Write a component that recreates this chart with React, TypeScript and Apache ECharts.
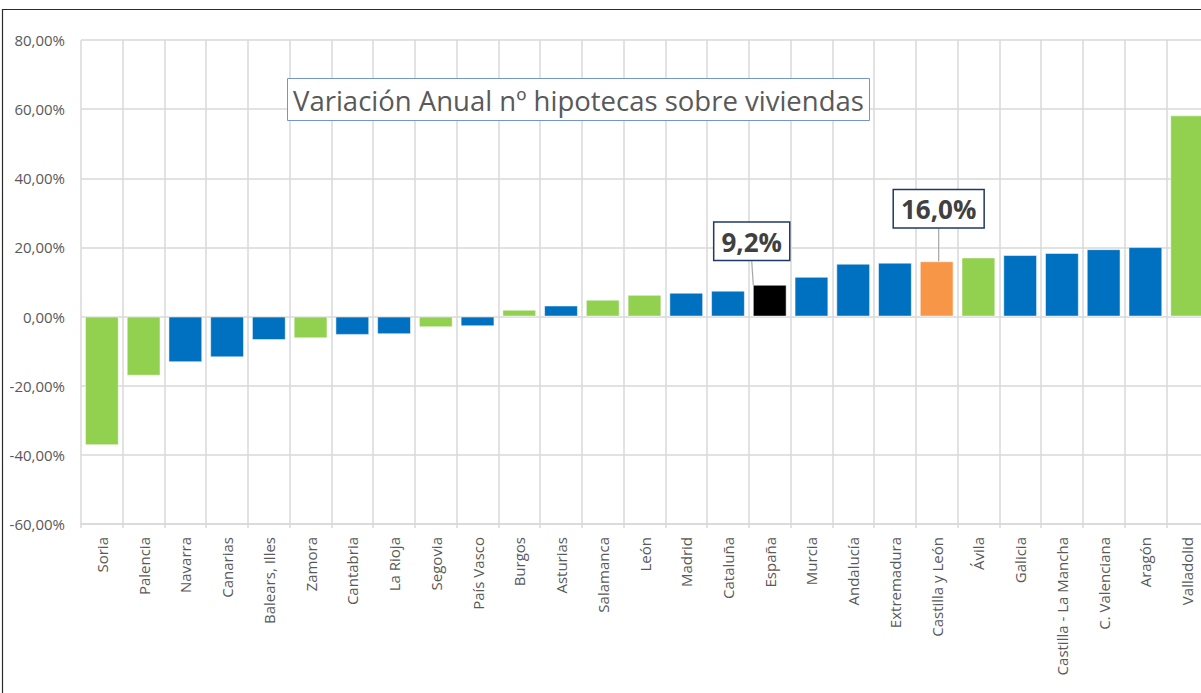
import React, { useEffect, useRef } from "react";
import * as echarts from "echarts";

const categories = [
  "Soria", "Palencia", "Navarra", "Canarias", "Balears, Illes", "Zamora", "Cantabria",
  "La Rioja", "Segovia", "País Vasco", "Burgos", "Asturias", "Salamanca", "León",
  "Madrid", "Cataluña", "España", "Murcia", "Andalucía", "Extremadura", "Castilla y León",
  "Ávila", "Galicia", "Castilla - La Mancha", "C. Valenciana", "Aragón", "Valladolid",
];
const values = [
  -37.2, -17.1, -13.2, -11.8, -6.8, -6.3, -5.3, -5.1, -3.1, -2.8, 2.0, 3.2, 4.9, 6.3,
  6.9, 7.5, 9.2, 11.5, 15.3, 15.6, 16.0, 17.1, 17.8, 18.4, 19.5, 20.1, 58.2,
];
// g = Castilla y León province (green), b = other region (blue), e = España, c = Castilla y León
const groups = [
  "g", "g", "b", "b", "b", "g", "b", "b", "g", "b", "g", "b", "g", "g",
  "b", "b", "e", "b", "b", "b", "c", "g", "b", "b", "b", "b", "g",
];
const highlighted = ["España", "Castilla y León"];
const yTicks = { min: -60, max: 80, interval: 20 };
const title = "Variación Anual nº hipotecas sobre viviendas";

const colorOf: Record<string, string> = {
  g: "#92D050",
  b: "#0070C0",
  e: "#000000",
  c: "#F79646",
};

const fmtPct = (v: number, d: number) => v.toFixed(d).replace(".", ",") + "%";

export default function App() {
  const ref = useRef<HTMLDivElement>(null);
  useEffect(() => {
    if (!ref.current) return;
    const chart = echarts.init(ref.current, null, { renderer: "svg" });
    const font = "'Open Sans', 'DejaVu Sans', sans-serif";
    const data = values.map((v, i) => {
      const item: any = {
        value: v,
        itemStyle: { color: colorOf[groups[i]] },
      };
      if (highlighted.includes(categories[i])) {
        item.label = {
          show: true,
          position: "top",
          distance: 5,
          formatter: fmtPct(v, 1),
          fontSize: 26,
          fontWeight: "bold",
          fontFamily: font,
          color: "#404040",
          backgroundColor: "#ffffff",
          borderColor: "#1F3864",
          borderWidth: 1.5,
          lineHeight: 30,
          padding: [4, 7, 3, 7],
        };
        item.labelLine = { show: true, lineStyle: { color: "#A6A6A6", width: 1.2 } };
      }
      return item;
    });
    chart.setOption({
      animation: false,
      backgroundColor: "#ffffff",
      title: {
        text: title,
        left: 287,
        top: 78,
        padding: [5, 6, 4, 6],
        borderColor: "#7394CC",
        borderWidth: 1,
        backgroundColor: "#ffffff",
        textStyle: {
          fontSize: 27.5,
          fontWeight: "normal",
          color: "#595959",
          fontFamily: font,
          lineHeight: 34,
        },
      },
      graphic: [
        {
          type: "rect",
          silent: true,
          z: 100,
          shape: { x: 2.5, y: 9.5, width: 1400, height: 900 },
          style: { fill: "transparent", stroke: "#2b2b2b", lineWidth: 1.2 },
        },
      ],
      grid: { left: 81, top: 40, bottom: 169, right: 0, containLabel: false },
      xAxis: {
        type: "category",
        data: categories,
        axisLine: { show: true, onZero: false, lineStyle: { color: "#D9D9D9", width: 1.5 } },
        axisTick: { show: true, length: 4, lineStyle: { color: "#D9D9D9", width: 1.5 } },
        splitLine: { show: true, lineStyle: { color: "#D9D9D9", width: 1.5 } },
        axisLabel: {
          rotate: 90,
          margin: 13,
          interval: 0,
          fontSize: 15,
          color: "#595959",
          fontFamily: font,
        },
      },
      yAxis: {
        type: "value",
        min: yTicks.min,
        max: yTicks.max,
        interval: yTicks.interval,
        axisLine: { show: false },
        axisTick: { show: false },
        splitLine: { show: true, lineStyle: { color: "#D9D9D9", width: 1.5 } },
        axisLabel: {
          margin: 16,
          fontSize: 15,
          color: "#595959",
          fontFamily: font,
          formatter: (v: number) => fmtPct(v, 2),
        },
      },
      series: [
        {
          type: "bar",
          data,
          barCategoryGap: "19%",
          itemStyle: { borderColor: "rgba(255,255,255,0.5)", borderWidth: 1 },
          labelLayout: (p: any) => {
            const name = categories[p.dataIndex];
            if (name === "España") return { dx: -18, dy: -20 };
            if (name === "Castilla y León") return { dx: 2, dy: -29 };
            return {};
          },
        },
      ],
    });
    return () => chart.dispose();
  }, []);
  return (
    <div
      style={{
        position: "fixed",
        left: 0,
        top: 0,
        width: 1201,
        height: 693,
        overflow: "hidden",
        background: "#fff",
      }}
    >
      <div ref={ref} style={{ width: 1208, height: 693 }} />
    </div>
  );
}
